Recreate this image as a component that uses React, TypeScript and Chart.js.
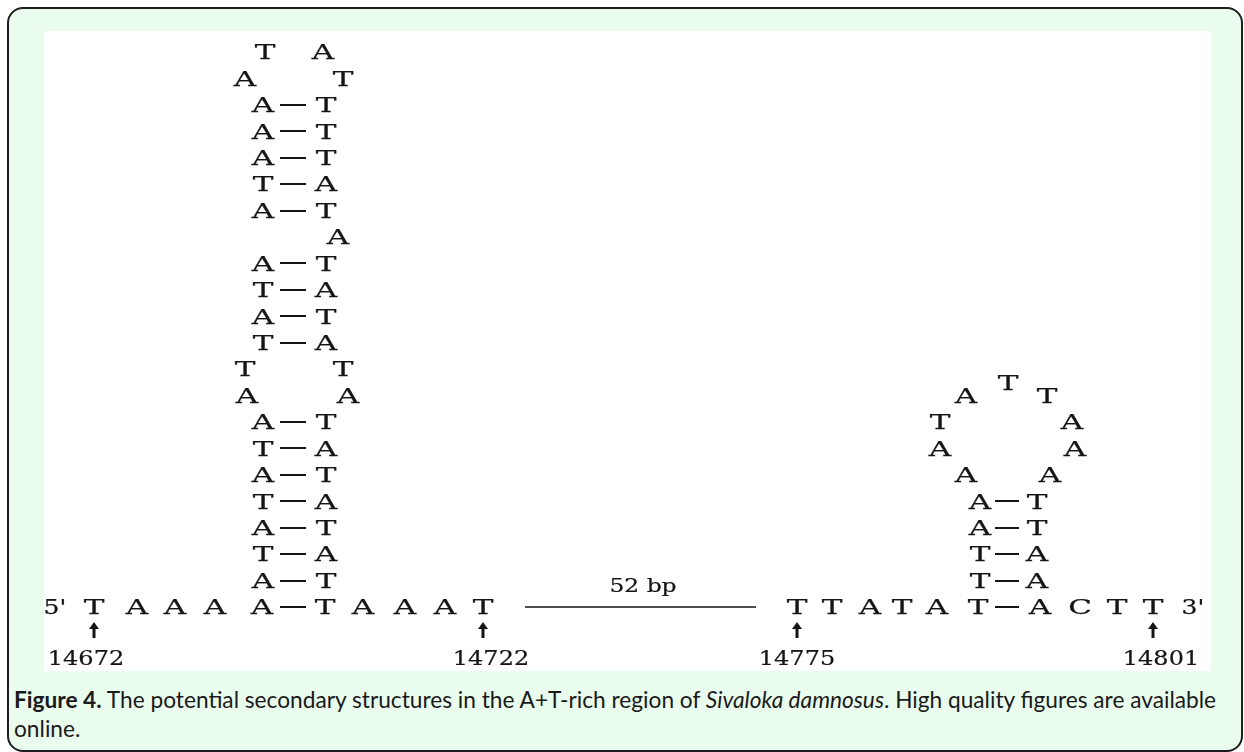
import React, { useEffect, useRef } from "react";
import { Chart, registerables } from "chart.js";

Chart.register(...registerables);

// Letter marks: [row, position, base]; row 0 is the top of the drawing, row 21 the main strand
const hairpin1Letters: [number, number, string][] = [
  [0, 265, "T"], [0, 323, "A"],
  [1, 245, "A"], [1, 343, "T"],
  [2, 263, "A"], [2, 326, "T"],
  [3, 263, "A"], [3, 326, "T"],
  [4, 263, "A"], [4, 326, "T"],
  [5, 263, "T"], [5, 326, "A"],
  [6, 263, "A"], [6, 326, "T"],
  [7, 338, "A"],
  [8, 263, "A"], [8, 326, "T"],
  [9, 263, "T"], [9, 326, "A"],
  [10, 263, "A"], [10, 326, "T"],
  [11, 263, "T"], [11, 326, "A"],
  [12, 245, "T"], [12, 343, "T"],
  [13, 247, "A"], [13, 348, "A"],
  [14, 263, "A"], [14, 326, "T"],
  [15, 263, "T"], [15, 326, "A"],
  [16, 263, "A"], [16, 326, "T"],
  [17, 263, "T"], [17, 326, "A"],
  [18, 263, "A"], [18, 326, "T"],
  [19, 263, "T"], [19, 326, "A"],
  [20, 263, "A"], [20, 326, "T"],
];

const hairpin2Letters: [number, number, string][] = [
  [12.5, 1008, "T"],
  [13, 966, "A"], [13, 1047, "T"],
  [14, 940, "T"], [14, 1072, "A"],
  [15, 940, "A"], [15, 1075, "A"],
  [16, 966, "A"], [16, 1050, "A"],
  [17, 980, "A"], [17, 1037, "T"],
  [18, 980, "A"], [18, 1037, "T"],
  [19, 980, "T"], [19, 1037, "A"],
  [20, 980, "T"], [20, 1037, "A"],
];

const strand5Letters: [number, number, string][] = [
  [21, 55, "5'"], [21, 94, "T"], [21, 137, "A"], [21, 175, "A"], [21, 215, "A"],
  [21, 262, "A"], [21, 325, "T"], [21, 363, "A"], [21, 405, "A"], [21, 445, "A"],
  [21, 483, "T"],
];

const strand3Letters: [number, number, string][] = [
  [21, 797, "T"], [21, 832, "T"], [21, 870, "A"], [21, 902, "T"], [21, 937, "A"],
  [21, 978, "T"], [21, 1040, "A"], [21, 1080, "C"], [21, 1117, "T"], [21, 1153, "T"],
  [21, 1193, "3'"],
];

// Base-pair bonds: [row, from, to]
const bondRows1 = [2, 3, 4, 5, 6, 8, 9, 10, 11, 14, 15, 16, 17, 18, 19, 20, 21];
const bondSpan1: [number, number] = [280, 306];
const bondRows2 = [17, 18, 19, 20, 21];
const bondSpan2: [number, number] = [995, 1019];

// Gap between the two structures
const gapLine: [number, number, number] = [21, 525, 756];
const gapLabel = "52 bp";
const gapLabelAt: [number, number] = [20.17, 643];

// Position markers
const positionLabels = ["14672", "14722", "14775", "14801"];
const positionArrowX = [94, 483, 797, 1153];
const positionLabelX = [86, 491, 797, 1161];
const arrowRow = 21.88;
const labelRow = 22.93;

const INK = "#151515";
const SERIF = '"DejaVu Serif", "Liberation Serif", serif';

function drawStretched(
  ctx: CanvasRenderingContext2D,
  text: string,
  px: number,
  py: number,
  size: number,
  stretch: number,
  weight = 0.25,
) {
  ctx.save();
  ctx.font = `${size}px ${SERIF}`;
  ctx.textAlign = "center";
  ctx.textBaseline = "alphabetic";
  const cap = size * 0.729;
  ctx.translate(px, py + cap / 2);
  ctx.scale(stretch, 1);
  ctx.fillText(text, 0, 0);
  if (weight > 0) {
    ctx.lineWidth = weight;
    ctx.strokeText(text, 0, 0);
  }
  ctx.restore();
}

const diagramPlugin = {
  id: "diagram",
  afterDatasetsDraw(chart: any) {
    const { ctx } = chart;
    const xs = chart.scales.x;
    const ys = chart.scales.y;
    ctx.save();
    ctx.fillStyle = INK;
    ctx.strokeStyle = INK;

    // bonds
    ctx.lineWidth = 2;
    const drawBond = (r: number, a: number, b: number) => {
      const py = Math.round(ys.getPixelForValue(r));
      ctx.beginPath();
      ctx.moveTo(xs.getPixelForValue(a), py);
      ctx.lineTo(xs.getPixelForValue(b), py);
      ctx.stroke();
    };
    bondRows1.forEach((r) => drawBond(r, bondSpan1[0], bondSpan1[1]));
    bondRows2.forEach((r) => drawBond(r, bondSpan2[0], bondSpan2[1]));

    // gap line
    ctx.lineWidth = 1.5;
    drawBond(gapLine[0], gapLine[1], gapLine[2]);
    drawStretched(
      ctx,
      gapLabel,
      xs.getPixelForValue(gapLabelAt[1]),
      ys.getPixelForValue(gapLabelAt[0]),
      18,
      1.3,
      0.2,
    );

    // letters from datasets
    chart.data.datasets.forEach((ds: any, di: number) => {
      const meta = chart.getDatasetMeta(di);
      meta.data.forEach((pt: any, i: number) => {
        const c = ds.data[i].c as string;
        drawStretched(ctx, c, pt.x, pt.y, 20, c.length > 1 ? 1.25 : 1.55, 0.25);
      });
    });

    // arrows + position labels
    positionLabels.forEach((lab, i) => {
      const ax = Math.round(xs.getPixelForValue(positionArrowX[i]));
      const ay = Math.round(ys.getPixelForValue(arrowRow));
      ctx.beginPath();
      ctx.moveTo(ax, ay - 8);
      ctx.lineTo(ax - 5, ay - 1);
      ctx.lineTo(ax + 5, ay - 1);
      ctx.closePath();
      ctx.fill();
      ctx.fillRect(ax - 1.5, ay - 2, 3, 10);
      drawStretched(
        ctx,
        lab,
        xs.getPixelForValue(positionLabelX[i]),
        ys.getPixelForValue(labelRow),
        20,
        1.2,
        0.2,
      );
    });
    ctx.restore();
  },
};

const toPoints = (arr: [number, number, string][]) =>
  arr.map(([r, x, c]) => ({ x, y: r, c }));

function Diagram() {
  const ref = useRef<HTMLCanvasElement | null>(null);
  useEffect(() => {
    if (!ref.current) return;
    const chart = new Chart(ref.current, {
      type: "scatter",
      data: {
        datasets: [
          { label: "hairpin 1", data: toPoints(hairpin1Letters) as any, pointRadius: 0 },
          { label: "hairpin 2", data: toPoints(hairpin2Letters) as any, pointRadius: 0 },
          { label: "5' strand", data: toPoints(strand5Letters) as any, pointRadius: 0 },
          { label: "3' strand", data: toPoints(strand3Letters) as any, pointRadius: 0 },
        ],
      },
      options: {
        animation: false,
        responsive: false,
        maintainAspectRatio: false,
        events: [],
        layout: { padding: 0 },
        plugins: { legend: { display: false }, tooltip: { enabled: false }, title: { display: false } },
        scales: {
          x: { type: "linear", display: false, min: 44, max: 1211 },
          y: { type: "linear", display: false, reverse: true, min: -0.7946, max: 23.42 },
        },
      },
      plugins: [diagramPlugin],
    });
    return () => chart.destroy();
  }, []);
  return <canvas ref={ref} width={1167} height={640} style={{ display: "block" }} />;
}

export default function App() {
  return (
    <div style={{ position: "fixed", left: 0, top: 0, width: 1244, height: 752, background: "#fff", overflow: "hidden" }}>
      <div
        style={{
          position: "absolute",
          left: 7,
          top: 7,
          width: 1236,
          height: 745,
          boxSizing: "border-box",
          border: "2px solid #1e1e1e",
          borderRadius: 16,
          background: "#e9fcee",
        }}
      />
      <div style={{ position: "absolute", left: 44, top: 31, width: 1167, height: 640, background: "#fff" }}>
        <Diagram />
      </div>
      <div
        style={{
          position: "absolute",
          left: 14,
          top: 685,
          fontFamily: "Lato, 'Open Sans', sans-serif",
          fontSize: 22.7,
          lineHeight: "29px",
          color: "#1a1a1a",
          whiteSpace: "nowrap",
        }}
      >
        <b style={{ fontWeight: 700 }}>Figure 4.</b> The potential secondary structures in the A+T-rich region of{" "}
        <i>Sivaloka damnosus</i>. High quality figures are available
        <br />
        online.
      </div>
    </div>
  );
}
